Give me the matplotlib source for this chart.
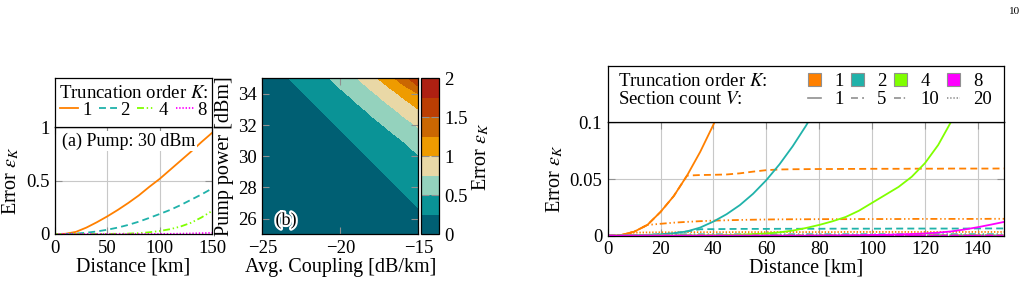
import numpy as np
import matplotlib
matplotlib.use('Agg')
import matplotlib.pyplot as plt
from matplotlib.lines import Line2D
from matplotlib.patches import Patch
import matplotlib.patheffects as pe

plt.rcParams['font.family'] = ['Liberation Serif', 'DejaVu Serif']
plt.rcParams['mathtext.fontset'] = 'stix'
plt.rcParams['lines.scale_dashes'] = False

# ---- (a) error vs distance at 30 dBm pump
dist_a = [0, 10, 20, 30, 40, 50, 60, 70, 80, 90, 100, 110, 120, 130, 140, 150]
err_a_k1 = [0, 0.002, 0.02, 0.06, 0.11, 0.165, 0.225, 0.29, 0.36, 0.44, 0.515, 0.6, 0.685, 0.77, 0.86, 0.945]
err_a_k2 = [0, 0.0, 0.004, 0.012, 0.024, 0.04, 0.06, 0.085, 0.115, 0.15, 0.187, 0.225, 0.27, 0.32, 0.37, 0.425]
err_a_k4 = [0, 0, 0, 0, 0, 0.001, 0.002, 0.004, 0.008, 0.016, 0.028, 0.045, 0.07, 0.105, 0.155, 0.215]
err_a_k8 = [0, 0, 0, 0, 0, 0, 0, 0, 0, 0, 0.001, 0.0015, 0.003, 0.005, 0.008, 0.011]

# ---- (b) error map: rows = pump power, cols = avg coupling
coupling = [-25, -24, -23, -22, -21, -20, -19, -18, -17, -16, -15]
pump = [25, 26, 27, 28, 29, 30, 31, 32, 33, 34, 35]
err_b = [
    [0.00, 0.01, 0.015, 0.02, 0.03, 0.05, 0.07, 0.09, 0.11, 0.15, 0.18],
    [0.01, 0.015, 0.02, 0.03, 0.05, 0.07, 0.09, 0.11, 0.15, 0.18, 0.21],
    [0.015, 0.02, 0.03, 0.05, 0.07, 0.09, 0.11, 0.15, 0.18, 0.21, 0.27],
    [0.02, 0.03, 0.05, 0.07, 0.09, 0.11, 0.15, 0.18, 0.21, 0.27, 0.34],
    [0.03, 0.05, 0.07, 0.09, 0.11, 0.15, 0.18, 0.21, 0.27, 0.345, 0.412],
    [0.05, 0.07, 0.09, 0.11, 0.15, 0.18, 0.21, 0.27, 0.35, 0.421, 0.488],
    [0.07, 0.09, 0.11, 0.15, 0.18, 0.21, 0.27, 0.355, 0.429, 0.501, 0.62],
    [0.09, 0.11, 0.15, 0.18, 0.21, 0.27, 0.36, 0.438, 0.522, 0.648, 0.773],
    [0.11, 0.15, 0.18, 0.21, 0.27, 0.364, 0.447, 0.543, 0.676, 0.823, 0.993],
    [0.15, 0.18, 0.21, 0.27, 0.369, 0.455, 0.565, 0.704, 0.873, 1.057, 1.239],
    [0.18, 0.21, 0.27, 0.374, 0.464, 0.586, 0.732, 0.923, 1.122, 1.382, 1.737],
]
levels_b = [0, 0.25, 0.5, 0.75, 1.0, 1.25, 1.5, 1.75, 2.0]
colors_b = ['#005f73', '#0a9396', '#94d2bd', '#e9d8a6', '#ee9b00', '#ca6702', '#bb3e03', '#ae2012']

# ---- (c) error vs distance for truncation order K and section count V
nan = np.nan
dist_c = [0, 5, 10, 15, 20, 25, 30, 35, 40, 45, 50, 55, 60, 65, 70, 75, 80,
          85, 90, 95, 100, 105, 110, 115, 120, 125, 130, 135, 140, 145, 150]
k1_v1 = [0, 0.0005, 0.0035, 0.0095, 0.021, 0.035, 0.053, 0.074, 0.098, 0.124] + [nan] * 21
k1_v5 = [0, 0.0005, 0.0035, 0.0095, 0.021, 0.035, 0.053, 0.0535, 0.0537, 0.054, 0.055,
         0.0565, 0.0578, 0.0584, 0.0586, 0.0587, 0.0588, 0.0588, 0.0589, 0.0589, 0.059,
         0.059, 0.059, 0.0591, 0.0591, 0.0591, 0.0592, 0.0592, 0.0592, 0.0592, 0.0593]
k1_v10 = [0, 0.0005, 0.0035, 0.0095, 0.0105, 0.0115, 0.0122, 0.0128, 0.0133, 0.0136, 0.0139,
          0.0141, 0.0143, 0.0144, 0.0145, 0.0145, 0.0146, 0.0146, 0.0146, 0.0147, 0.0147,
          0.0147, 0.0147, 0.0148, 0.0148, 0.0148, 0.0148, 0.0148, 0.0148, 0.0149, 0.0149]
k1_v20 = [0, 0.0005, 0.0027, 0.0029, 0.003, 0.003, 0.0031, 0.0031, 0.0031, 0.0031, 0.0032,
          0.0032, 0.0032, 0.0032, 0.0032, 0.0032, 0.0032, 0.0032, 0.0033, 0.0033, 0.0033,
          0.0033, 0.0033, 0.0033, 0.0033, 0.0033, 0.0033, 0.0033, 0.0033, 0.0033, 0.0033]
k2_v1 = [0, 0.0001, 0.0003, 0.0007, 0.0012, 0.0022, 0.0038, 0.0072, 0.0125, 0.019, 0.027,
         0.037, 0.049, 0.063, 0.079, 0.097, 0.117] + [nan] * 14
k2_v5 = [0, 0.0001, 0.0003, 0.0007, 0.0012, 0.0022, 0.0038, 0.0057, 0.0058, 0.0059, 0.006,
         0.006, 0.006, 0.0061, 0.0061, 0.0061, 0.0061, 0.0062, 0.0062, 0.0062, 0.0062,
         0.0062, 0.0063, 0.0063, 0.0063, 0.0063, 0.0063, 0.0063, 0.0064, 0.0064, 0.0064]
dist_flat = [0, 10, 20, 50, 100, 150]
k2_v10 = [0, 0.0003, 0.0012, 0.0012, 0.0013, 0.0013]
k2_v20 = [0, 0.0003, 0.0003, 0.0003, 0.0004, 0.0004]
k4_v1 = [0, 0, 0, 0, 0.0001, 0.0001, 0.0002, 0.0003, 0.0004, 0.0006, 0.0009, 0.0014, 0.002,
         0.003, 0.0045, 0.0068, 0.0095, 0.0127, 0.0165, 0.022, 0.029, 0.036, 0.043, 0.052,
         0.064, 0.08, 0.101] + [nan] * 4
k4_v5 = [0, 0, 0.0001, 0.0003, 0.0004, 0.0005]
k4_v10 = [0, 0, 0.0001, 0.0001, 0.0001, 0.0002]
k4_v20 = [0, 0, 0, 0.0001, 0.0001, 0.0001]
k8_v1 = [0] * 16 + [0.0001, 0.0002, 0.0003, 0.0004, 0.0006, 0.0008, 0.0011, 0.0015, 0.002,
                    0.0027, 0.0038, 0.0055, 0.0075, 0.0098, 0.0122]
k8_v5 = [0, 0, 0, 0, 0.0001, 0.0002]
k8_v10 = [0, 0, 0, 0, 0, 0.0001]
k8_v20 = [0, 0, 0, 0, 0, 0]

k_colors = {1: '#ff8000', 2: '#20b2aa', 4: '#80ff00', 8: '#ff00ff'}
v_styles = {1: '-', 5: (0, (5, 3)), 10: (0, (5, 2, 1, 2, 1, 2)), 20: (0, (1, 1.3))}

W, H = 1031, 284
fig = plt.figure(figsize=(W / 100, H / 100), dpi=100)


def box(x0, y0, x1, y1):
    # pixel box (top-left origin) -> figure fraction
    return [x0 / W, 1 - y1 / H, (x1 - x0) / W, (y1 - y0) / H]


TICK = 13.5
LABEL = 14.5
LEG = 13.5


def style(ax, grid=True):
    ax.tick_params(direction='in', length=5, width=0.8, color='#909090',
                   top=True, right=True, labelsize=TICK, pad=4)
    for s in ax.spines.values():
        s.set_linewidth(0.9)
    if grid:
        ax.grid(True, color='#c8c8c8', lw=0.8)
        ax.set_axisbelow(True)


# ---------------- panel (a)
ax_a = fig.add_axes(box(55, 127, 212, 234))
style(ax_a)
ax_a.plot(dist_a, err_a_k1, color=k_colors[1], lw=1.3, ls=v_styles[1])
ax_a.plot(dist_a, err_a_k2, color=k_colors[2], lw=1.3, ls=v_styles[5])
ax_a.plot(dist_a, err_a_k4, color=k_colors[4], lw=1.3, ls=v_styles[10])
ax_a.plot(dist_a, err_a_k8, color=k_colors[8], lw=1.3, ls=v_styles[20])
ax_a.set_xlim(0, 150)
ax_a.set_ylim(0, 1)
ax_a.set_xticks([0, 50, 100, 150])
ax_a.set_yticks([0, 0.5, 1])
ax_a.set_yticklabels(['0', '0.5', '1'])
ax_a.set_xlabel('Distance [km]', fontsize=LABEL, labelpad=1)
ax_a.set_ylabel(r'Error $\epsilon_K$', fontsize=LABEL, labelpad=3)
ax_a.text(0.045, 0.87, '(a) Pump: 30 dBm', transform=ax_a.transAxes, fontsize=13,
          va='center', ha='left', bbox=dict(facecolor='white', edgecolor='none', pad=1))

leg_a = fig.add_axes(box(55, 78, 212, 127))
leg_a.set_xticks([])
leg_a.set_yticks([])
for s in leg_a.spines.values():
    s.set_linewidth(0.9)
leg_a.text(0.5, 0.69, r'Truncation order $K$:', transform=leg_a.transAxes,
           fontsize=LEG, ha='center', va='center')
h_a = [Line2D([], [], color=k_colors[1], lw=1.3, ls=v_styles[1]),
       Line2D([], [], color=k_colors[2], lw=1.3, ls=v_styles[5]),
       Line2D([], [], color=k_colors[4], lw=1.3, ls=v_styles[10]),
       Line2D([], [], color=k_colors[8], lw=1.3, ls=v_styles[20])]
leg_a.legend(h_a, ['1', '2', '4', '8'], ncol=4, frameon=False, fontsize=LEG,
             loc='center', bbox_to_anchor=(0.5, 0.34), handlelength=0.95,
             handletextpad=0.2, columnspacing=0.4, borderpad=0, borderaxespad=0)

# ---------------- panel (b)
ax_b = fig.add_axes(box(262.3, 78.3, 418.3, 234.3))
cs = ax_b.contourf(coupling, pump, err_b, levels=levels_b, colors=colors_b)
style(ax_b, grid=False)
ax_b.set_xticks([-25, -20, -15])
ax_b.set_yticks([26, 28, 30, 32, 34])
ax_b.set_xlabel('Avg. Coupling [dB/km]', fontsize=LABEL, labelpad=1)
ax_b.set_ylabel('Pump power [dBm]', fontsize=LABEL, labelpad=3)
ax_b.text(0.152, 0.09, '(b)', transform=ax_b.transAxes, fontsize=13, ha='center',
          va='center', path_effects=[pe.withStroke(linewidth=3, foreground='white')])

cax = fig.add_axes(box(421.3, 78.3, 438.7, 234.3))
cb = fig.colorbar(cs, cax=cax, ticks=[0, 0.5, 1, 1.5, 2])
cb.ax.set_yticklabels(['0', '0.5', '1', '1.5', '2'])
cb.ax.tick_params(direction='in', length=6, width=0.8, color='#909090',
                  left=True, right=True, labelsize=TICK, pad=4)
cb.outline.set_linewidth(0.9)
cb.set_label(r'Error $\epsilon_K$', fontsize=LABEL, labelpad=2)

# ---------------- panel (c)
ax_c = fig.add_axes(box(607.7, 122.3, 1004.3, 235.7))
style(ax_c)
series_c = [
    (1, 1, dist_c, k1_v1), (1, 5, dist_c, k1_v5), (1, 10, dist_c, k1_v10), (1, 20, dist_c, k1_v20),
    (2, 1, dist_c, k2_v1), (2, 5, dist_c, k2_v5), (2, 10, dist_flat, k2_v10), (2, 20, dist_flat, k2_v20),
    (4, 1, dist_c, k4_v1), (4, 5, dist_flat, k4_v5), (4, 10, dist_flat, k4_v10), (4, 20, dist_flat, k4_v20),
    (8, 5, dist_flat, k8_v5), (8, 10, dist_flat, k8_v10), (8, 20, dist_flat, k8_v20), (8, 1, dist_c, k8_v1),
]
for k, v, xs, ys in series_c:
    ax_c.plot(xs, ys, color=k_colors[k], ls=v_styles[v], lw=1.3)
ax_c.set_xlim(0, 150)
ax_c.set_ylim(0, 0.1)
ax_c.set_xticks([0, 20, 40, 60, 80, 100, 120, 140])
ax_c.set_yticks([0, 0.05, 0.1])
ax_c.set_yticklabels(['0', '0.05', '0.1'])
ax_c.set_xlabel('Distance [km]', fontsize=LABEL, labelpad=0)
ax_c.set_ylabel(r'Error $\epsilon_K$', fontsize=LABEL, labelpad=3)

leg_c = fig.add_axes(box(607.7, 66, 1004.3, 122.3))
leg_c.set_xticks([])
leg_c.set_yticks([])
for s in leg_c.spines.values():
    s.set_linewidth(0.9)
leg_c.text(0.027, 0.72, r'Truncation order $K$:', transform=leg_c.transAxes,
           fontsize=LEG, ha='left', va='center')
leg_c.text(0.027, 0.40, r'Section count $V$:', transform=leg_c.transAxes,
           fontsize=LEG, ha='left', va='center')
h_c, l_c = [], []
for k, v in zip([1, 2, 4, 8], [1, 5, 10, 20]):
    h_c.append(Patch(facecolor=k_colors[k], edgecolor='#909090', lw=0.8))
    l_c.append(str(k))
    h_c.append(Line2D([], [], color='#909090', lw=1.2, ls=v_styles[v]))
    l_c.append(str(v))
leg_c.legend(h_c, l_c, ncol=4, frameon=False, fontsize=LEG, loc='center left',
             bbox_to_anchor=(0.505, 0.56), handlelength=0.7, handletextpad=0.7,
             columnspacing=0.4, labelspacing=0.05, borderpad=0, borderaxespad=0)

fig.text(0.9845, 0.96, '10', fontsize=8, ha='center', va='center')

fig.savefig('out.png', dpi=100)
